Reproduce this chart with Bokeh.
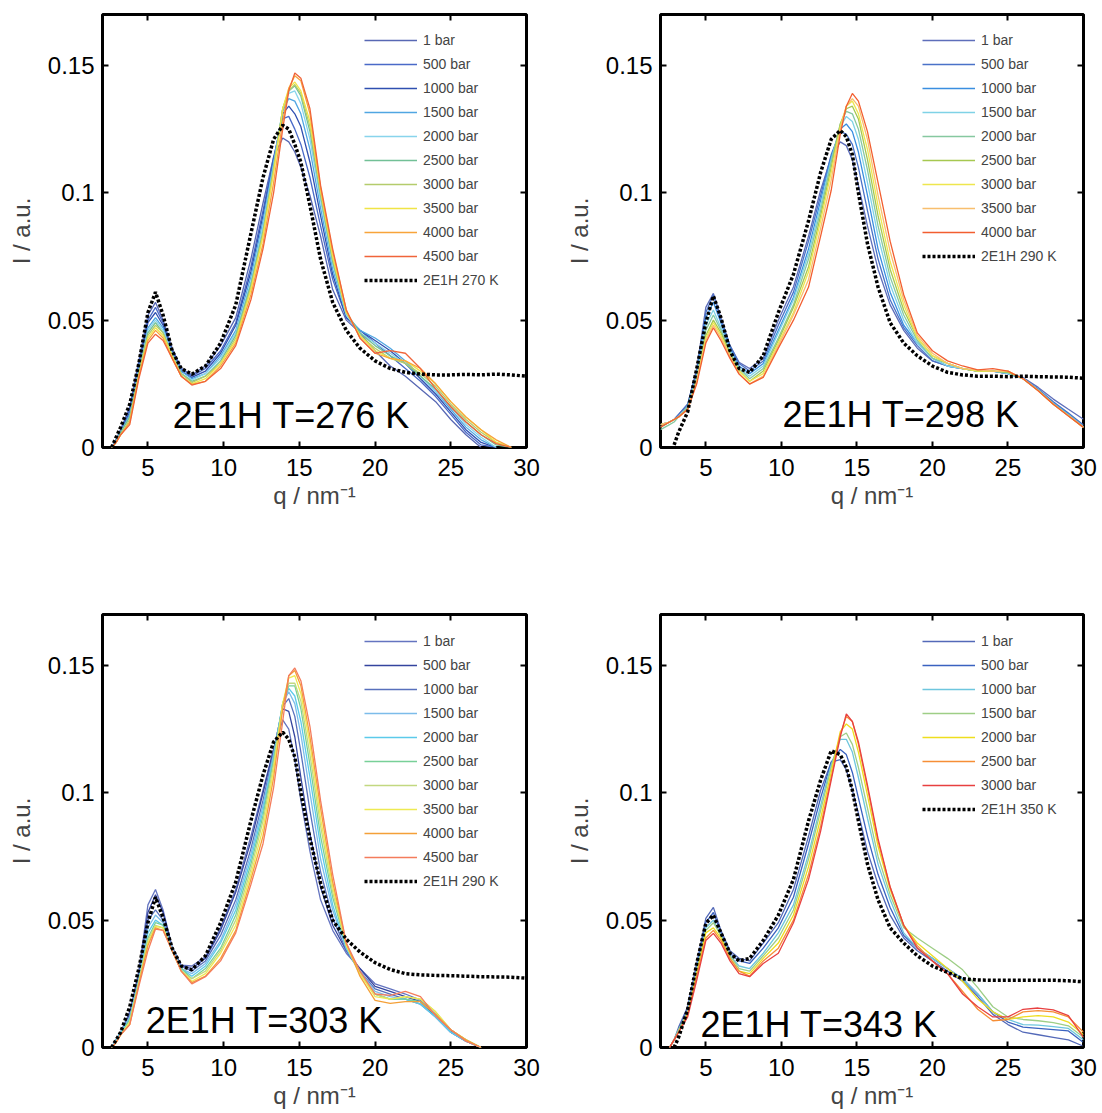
import numpy as np
from bokeh.plotting import figure
from bokeh.layouts import column, row
from bokeh.models import (Range1d, FixedTicker, LinearAxis, Label, Legend, LegendItem,
                          CustomLabelingPolicy)
from bokeh.embed import file_html
from bokeh.resources import INLINE

N = None  # no measurement at this q

# scattering vector grid, nm^-1
Q = [2.0, 2.6, 2.9, 3.2, 3.8, 4.4, 5.0, 5.5, 6.0, 6.6, 7.2, 7.9, 8.8, 9.8, 10.8, 11.8,
     12.6, 13.3, 13.9, 14.3, 14.7, 15.1, 15.7, 16.4, 17.2, 18.1, 19.0, 20.0, 21.0, 22.0,
     23.0, 24.0, 25.0, 26.0, 27.0, 28.0, 29.0, 30.0]

# ---- 2E1H, T = 276 K ----
A_labels = ["1 bar", "500 bar", "1000 bar", "1500 bar", "2000 bar", "2500 bar",
            "3000 bar", "3500 bar", "4000 bar", "4500 bar"]
A_1    = [N, 0, .003, .007, .016, .034, .052, .057, .050, .039, .031, .0285, .032, .040, .051, .074, .096, .114, .1215, .120, .116, .110, .099, .083, .062, .050, .045, .038, .032, .028, .023, .018, .011, .005, 0, N, N, N]
A_500  = [N, 0, .003, .007, .015, .033, .050, .055, .049, .038, .031, .028, .031, .038, .049, .071, .093, .114, .129, .130, .125, .119, .106, .087, .066, .051, .046, .041, .036, .031, .026, .020, .013, .006, .001, 0, N, N]
A_1000 = [N, 0, .003, .006, .014, .032, .049, .053, .048, .038, .030, .0275, .030, .037, .048, .069, .091, .113, .131, .134, .131, .126, .112, .091, .068, .051, .046, .042, .038, .033, .027, .021, .014, .007, .002, 0, N, N]
A_1500 = [N, 0, .003, .006, .013, .031, .047, .051, .047, .037, .030, .027, .029, .036, .046, .067, .089, .112, .132, .137, .136, .131, .117, .094, .070, .052, .046, .043, .039, .034, .028, .022, .015, .008, .003, 0, N, N]
A_2000 = [N, 0, .002, .006, .012, .030, .046, .050, .046, .037, .029, .0265, .029, .035, .045, .065, .087, .111, .133, .139, .140, .135, .121, .097, .072, .052, .045, .041, .037, .033, .028, .022, .016, .009, .004, 0, N, N]
A_2500 = [N, 0, .002, .006, .012, .030, .045, .049, .045, .036, .029, .026, .028, .034, .044, .064, .085, .110, .133, .140, .142, .138, .124, .099, .073, .053, .045, .040, .036, .033, .028, .023, .016, .010, .005, .001, 0, N]
A_3000 = [N, 0, .002, .005, .011, .029, .044, .048, .045, .036, .029, .0255, .028, .033, .043, .063, .084, .109, .133, .140, .1425, .139, .126, .100, .074, .053, .044, .039, .035, .033, .029, .024, .017, .011, .006, .002, 0, N]
A_3500 = [N, 0, .002, .005, .010, .028, .043, .047, .044, .036, .028, .025, .027, .033, .042, .062, .083, .108, .133, .141, .1435, .140, .128, .101, .075, .053, .044, .038, .035, .034, .030, .025, .018, .012, .007, .002, 0, N]
A_4000 = [N, 0, .002, .005, .010, .028, .042, .046, .043, .035, .028, .0248, .026, .032, .041, .060, .080, .104, .128, .141, .146, .144, .131, .102, .077, .054, .043, .037, .035, .034, .031, .025, .018, .012, .007, .003, 0, N]
A_4500 = [N, 0, .002, .005, .009, .027, .041, .0445, .042, .035, .028, .0245, .026, .031, .040, .058, .078, .100, .125, .140, .147, .145, .133, .103, .078, .054, .043, .037, .038, .037, .031, .023, .016, .010, .005, .0015, 0, N]
A_ref  = [N, 0, .004, .008, .017, .033, .053, .061, .052, .038, .031, .0288, .032, .041, .056, .084, .106, .121, .1265, .125, .119, .112, .095, .074, .057, .046, .039, .034, .031, .0295, .0288, .0285, .0285, .0287, .0285, .0288, .0285, .028]
A_curves = [A_1, A_500, A_1000, A_1500, A_2000, A_2500, A_3000, A_3500, A_4000, A_4500]
A_colors = ["#5868b4", "#4a6ac8", "#2f4fb0", "#50a6e2", "#88d4ec", "#72c096",
            "#b4cc6c", "#f0e446", "#f8a43a", "#f0643a"]

# ---- 2E1H, T = 298 K ----
B_labels = ["1 bar", "500 bar", "1000 bar", "1500 bar", "2000 bar", "2500 bar",
            "3000 bar", "3500 bar", "4000 bar"]
B_1    = [.009, .010, .011, .013, .017, .031, .055, .0605, .051, .040, .0334, .031, .035, .050, .063, .083, .101, .114, .120, .1185, .113, .103, .087, .070, .056, .046, .039, .034, .032, .031, .030, .030, .029, .0275, .0236, .019, .015, .0111]
B_500  = [.009, .010, .011, .013, .017, .030, .053, .060, .050, .040, .033, .030, .034, .048, .061, .081, .099, .115, .124, .123, .119, .110, .093, .074, .058, .047, .040, .034, .032, .031, .030, .030, .029, .027, .023, .018, .0135, .0088]
B_1000 = [.008, .010, .011, .012, .016, .029, .051, .057, .049, .039, .032, .029, .033, .046, .059, .078, .097, .114, .125, .127, .124, .116, .099, .078, .061, .048, .041, .035, .032, .031, .030, .030, .029, .027, .0228, .0175, .013, .0082]
B_1500 = [.009, .010, .011, .012, .016, .028, .048, .054, .047, .038, .031, .028, .032, .045, .058, .076, .095, .113, .126, .130, .128, .121, .104, .083, .064, .050, .041, .035, .032, .031, .030, .030, .029, .027, .0226, .0172, .0128, .008]
B_2000 = [.007, .009, .010, .012, .016, .027, .046, .052, .046, .037, .031, .027, .031, .043, .056, .074, .093, .112, .127, .132, .131, .125, .109, .087, .067, .052, .042, .035, .033, .031, .030, .030, .0295, .027, .0225, .0172, .0127, .008]
B_2500 = [.008, .010, .011, .012, .015, .027, .044, .050, .045, .037, .030, .026, .030, .042, .055, .071, .091, .110, .127, .133, .134, .129, .113, .091, .070, .054, .043, .036, .033, .031, .030, .030, .0295, .027, .0224, .017, .0126, .0079]
B_3000 = [.009, .010, .011, .012, .015, .026, .043, .049, .044, .036, .030, .026, .029, .041, .053, .069, .089, .108, .126, .134, .136, .131, .117, .095, .073, .056, .043, .036, .033, .031, .030, .030, .030, .027, .0224, .017, .0125, .0079]
B_3500 = [.009, .010, .011, .012, .015, .026, .042, .048, .043, .036, .029, .025, .028, .040, .052, .066, .086, .105, .125, .134, .137, .134, .121, .099, .077, .058, .044, .037, .033, .031, .0305, .030, .030, .027, .0223, .017, .0125, .0079]
B_4000 = [.008, .010, .011, .012, .015, .025, .041, .047, .042, .035, .0288, .0249, .0275, .039, .050, .063, .083, .101, .123, .134, .139, .136, .124, .104, .081, .060, .045, .038, .034, .032, .0305, .031, .030, .027, .0223, .017, .0124, .0079]
B_ref  = [N, N, .001, .006, .014, .031, .049, .0595, .051, .038, .031, .0295, .036, .053, .068, .089, .108, .121, .1245, .122, .115, .100, .080, .063, .049, .041, .036, .032, .0295, .0285, .028, .028, .0278, .028, .0278, .0277, .0276, .0272]
B_curves = [B_1, B_500, B_1000, B_1500, B_2000, B_2500, B_3000, B_3500, B_4000]
B_colors = ["#5e6eba", "#4a72c8", "#3a8ee0", "#7fd2e6", "#86c8a0", "#a6c850",
            "#eee64e", "#f8be6e", "#f25e30"]

# ---- 2E1H, T = 303 K ----
C_labels = A_labels
C_1    = [N, 0, .003, .006, .014, .030, .056, .062, .054, .0395, .0323, .032, .0356, .047, .062, .083, .101, .117, .1286, .125, .113, .097, .077, .058, .046, .037, .031, .025, .023, .021, .0186, .013, .0065, .003, 0, N, N, N]
C_500  = [N, 0, .003, .006, .013, .029, .053, .060, .053, .039, .032, .031, .035, .046, .061, .081, .100, .117, .133, .132, .122, .106, .084, .063, .048, .038, .031, .024, .022, .020, .018, .012, .006, .0025, 0, N, N, N]
C_1000 = [N, 0, .003, .006, .012, .028, .050, .054, .050, .039, .032, .030, .034, .044, .058, .078, .097, .116, .134, .137, .130, .116, .093, .069, .051, .038, .030, .023, .021, .019, .017, .012, .006, .0025, 0, N, N, N]
C_1500 = [N, 0, .003, .006, .012, .027, .047, .052, .049, .039, .031, .029, .033, .042, .056, .076, .095, .115, .135, .1397, .135, .123, .100, .074, .054, .039, .030, .022, .020, .019, .017, .012, .006, .0025, 0, N, N, N]
C_2000 = [N, 0, .003, .006, .011, .027, .045, .050, .048, .038, .031, .028, .032, .041, .054, .074, .093, .114, .135, .141, .138, .128, .106, .079, .056, .039, .029, .021, .019, .019, .017, .012, .006, .0025, 0, N, N, N]
C_2500 = [N, 0, .002, .005, .011, .026, .043, .049, .048, .038, .031, .027, .031, .039, .052, .072, .091, .113, .135, .142, .142, .133, .111, .083, .059, .040, .029, .021, .019, .019, .018, .013, .007, .003, 0, N, N, N]
C_3000 = [N, 0, .002, .005, .010, .026, .042, .048, .047, .038, .030, .027, .030, .038, .050, .070, .089, .111, .135, .143, .143, .136, .115, .087, .061, .040, .029, .021, .019, .020, .019, .014, .007, .003, 0, N, N, N]
C_3500 = [N, 0, .002, .005, .010, .025, .041, .0475, .047, .038, .030, .026, .029, .037, .048, .068, .086, .109, .135, .145, .146, .139, .119, .090, .063, .040, .029, .020, .019, .020, .019, .014, .007, .003, 0, N, N, N]
C_4000 = [N, 0, .002, .005, .009, .025, .040, .047, .046, .038, .030, .0255, .028, .035, .046, .066, .083, .106, .133, .146, .148, .142, .122, .094, .065, .041, .028, .0185, .0173, .018, .018, .013, .007, .003, 0, N, N, N]
C_4500 = [N, 0, .002, .005, .009, .024, .038, .0465, .046, .038, .030, .025, .0278, .034, .045, .064, .080, .102, .128, .146, .149, .144, .126, .097, .068, .041, .030, .021, .0205, .022, .020, .0125, .007, .0025, 0, N, N, N]
C_ref  = [N, 0, .003, .006, .016, .031, .049, .059, .051, .039, .032, .0305, .036, .049, .065, .089, .107, .120, .1238, .121, .114, .100, .082, .0645, .050, .0425, .0375, .0333, .0306, .029, .0285, .0283, .0282, .028, .0278, .0277, .0276, .0272]
C_curves = [C_1, C_500, C_1000, C_1500, C_2000, C_2500, C_3000, C_3500, C_4000, C_4500]
C_colors = ["#6474c0", "#34449e", "#5870bc", "#7cbcea", "#5ccaea", "#78d098",
            "#c2d880", "#eeea52", "#f4a038", "#f47c5c"]

# ---- 2E1H, T = 343 K ----
D_labels = ["1 bar", "500 bar", "1000 bar", "1500 bar", "2000 bar", "2500 bar", "3000 bar"]
D_1    = [N, 0, .003, .008, .016, .033, .0507, .055, .046, .038, .035, .034, .041, .049, .062, .083, .101, .112, .113, .109, .101, .092, .077, .064, .052, .043, .038, .034, .030, .026, .020, .013, .009, .006, .005, .004, .003, .0005]
D_500  = [N, 0, .003, .007, .015, .032, .049, .053, .045, .037, .034, .033, .039, .047, .059, .080, .098, .112, .117, .115, .108, .098, .083, .068, .055, .044, .039, .035, .031, .027, .021, .014, .010, .008, .0075, .007, .0065, .002]
D_1000 = [N, 0, .003, .007, .014, .031, .047, .050, .044, .036, .032, .031, .037, .045, .056, .076, .095, .111, .121, .121, .116, .106, .090, .072, .058, .045, .039, .035, .031, .027, .021, .014, .011, .009, .0088, .0082, .0075, .003]
D_1500 = [N, 0, .003, .007, .014, .030, .046, .049, .044, .036, .031, .030, .036, .043, .054, .074, .093, .110, .122, .1235, .119, .110, .094, .075, .060, .047, .043, .039, .035, .0305, .0235, .016, .012, .011, .0105, .0098, .0085, .004]
D_2000 = [N, 0, .003, .006, .013, .029, .045, .047, .043, .035, .030, .029, .035, .041, .052, .071, .090, .108, .124, .127, .125, .116, .099, .079, .062, .048, .041, .036, .031, .026, .019, .014, .011, .012, .0125, .012, .010, .005]
D_2500 = [N, 0, .003, .006, .013, .028, .043, .046, .042, .035, .030, .028, .034, .039, .050, .068, .087, .106, .123, .130, .128, .119, .102, .081, .063, .048, .040, .034, .029, .022, .015, .0105, .011, .014, .0145, .014, .012, .006]
D_3000 = [N, 0, .003, .006, .012, .0265, .042, .0448, .041, .034, .029, .0278, .033, .037, .049, .066, .085, .105, .122, .131, .128, .120, .103, .082, .063, .048, .039, .034, .029, .021, .016, .012, .012, .015, .0155, .0148, .0125, .004]
D_ref  = [N, N, 0, .004, .015, .033, .0487, .052, .045, .037, .034, .035, .042, .052, .066, .089, .105, .1165, .115, .110, .101, .089, .072, .058, .047, .041, .036, .032, .0295, .027, .0265, .0264, .0264, .0264, .0264, .0264, .0262, .0258]
D_curves = [D_1, D_500, D_1000, D_1500, D_2000, D_2500, D_3000]
D_colors = ["#5369b8", "#3a62c0", "#6ec6de", "#9ece86", "#eede1e", "#f68e36", "#e84040"]

X_TICKS = [5, 10, 15, 20, 25, 30]
Y_TICKS = [0, 0.05, 0.1, 0.15]
Y_TICK_TEXT = {0: "0", 0.05: "0.05", 0.1: "0.1", 0.15: "0.15"}

FONT = "Liberation Sans"
FRAME_H = 433
REF_DASH = "3 2"


def make_panel(curves, labels, colors, ref, ref_label, title, title_xy,
               legend_top, border_left, border_right, border_bottom, frame_w):
    p = figure(frame_width=frame_w, frame_height=FRAME_H,
               x_range=Range1d(2, 30), y_range=Range1d(0, 0.17),
               output_backend="svg", toolbar_location=None,
               min_border_left=border_left, min_border_right=border_right,
               min_border_top=14, min_border_bottom=border_bottom,
               background_fill_color="white", border_fill_color="white")
    p.xgrid.visible = False
    p.ygrid.visible = False
    p.outline_line_color = "black"
    p.outline_line_width = 3
    p.outline_line_alpha = 1.0

    q = np.array(Q, dtype=float)
    items = []
    for vals, lab, col in zip(curves, labels, colors):
        r = p.line(q, np.array(vals, dtype=float), line_color=col, line_width=1.3)
        items.append(LegendItem(label=lab, renderers=[r]))
    r = p.line(q, np.array(ref, dtype=float), line_color="black",
               line_width=3.5, line_dash=REF_DASH)
    items.append(LegendItem(label=ref_label, renderers=[r]))

    n = len(items)
    pad = 4
    leg_h = n * 20 + (n - 1) * 4 + 2 * pad
    legend = Legend(items=items, location=(262, FRAME_H - legend_top - leg_h + 0.5),
                    glyph_width=53, glyph_height=20, label_height=20, spacing=4,
                    padding=pad, label_standoff=6, margin=0,
                    label_text_font=FONT, label_text_font_size="14px",
                    background_fill_alpha=0, border_line_color=None)
    p.add_layout(legend)

    # ticks pointing inward on all four sides
    p.add_layout(LinearAxis(), "above")
    p.add_layout(LinearAxis(), "right")
    for ax in p.xaxis:
        ax.ticker = FixedTicker(ticks=X_TICKS)
    for ax in p.yaxis:
        ax.ticker = FixedTicker(ticks=Y_TICKS)
    for ax in p.axis:
        ax.axis_line_color = None
        ax.major_tick_in = 6
        ax.major_tick_out = 0
        ax.major_tick_line_width = 2
        ax.major_tick_line_color = "black"
        ax.minor_tick_line_color = None
        ax.major_label_text_font = FONT
        ax.major_label_text_font_size = "24px"
        ax.major_label_text_color = "black"
    # mirrored axes carry tick marks only
    for ax in (p.above[0], p.right[0]):
        ax.major_label_text_font_size = "0px"
        ax.major_label_standoff = 0
        ax.major_label_policy = CustomLabelingPolicy(
            code="for (const i of indices) { if (i < 0) { yield i } }")

    bx = p.below[0]
    bx.major_label_standoff = 11
    bx.axis_label = "q / nm\u207b\u00b9"
    bx.axis_label_text_font = FONT
    bx.axis_label_text_font_size = "24px"
    bx.axis_label_text_font_style = "normal"
    bx.axis_label_standoff = 3

    ly = p.left[0]
    ly.major_label_standoff = 8
    ly.major_label_overrides = Y_TICK_TEXT
    ly.axis_label = "I / a.u."
    ly.axis_label_text_font = FONT
    ly.axis_label_text_font_size = "24px"
    ly.axis_label_text_font_style = "normal"
    ly.axis_label_standoff = 10

    p.add_layout(Label(x=title_xy[0], y=title_xy[1], text=title, text_align="left",
                       text_baseline="alphabetic", text_font=FONT,
                       text_font_size="36px", text_color="black"))
    return p


pA = make_panel(A_curves, A_labels, A_colors, A_ref, "2E1H 270 K", "2E1H T=276 K",
                (6.64, 0.0124), 8, 102, 25, 153, 424)
pB = make_panel(B_curves, B_labels, B_colors, B_ref, "2E1H 290 K", "2E1H T=298 K",
                (10.07, 0.0128), 8, 109, 19, 153, 423)
pC = make_panel(C_curves, C_labels, C_colors, C_ref, "2E1H 290 K", "2E1H T=303 K",
                (4.86, 0.0105), 9, 102, 25, 66, 424)
pD = make_panel(D_curves, D_labels, D_colors, D_ref, "2E1H 350 K", "2E1H T=343 K",
                (4.65, 0.0089), 9, 109, 19, 66, 423)

layout = column(row(pA, pB), row(pC, pD))
open("out.html", "w").write(file_html(layout, INLINE))
